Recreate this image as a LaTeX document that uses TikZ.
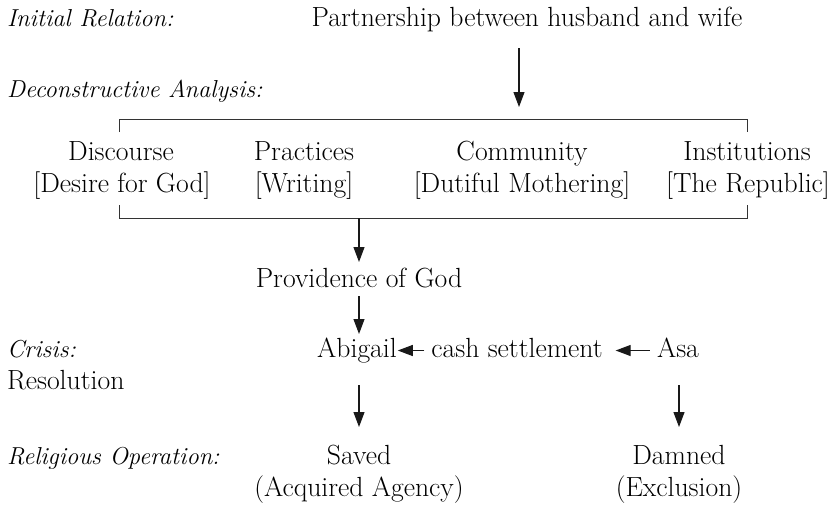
\documentclass[tikz,border=0pt]{standalone}
\usetikzlibrary{arrows.meta}
\begin{document}
\begin{tikzpicture}[x=1pt,y=-1pt,
  every node/.style={inner sep=0pt, outer sep=0pt, font=\fontsize{27.7}{32}\selectfont, text height=19pt, text depth=6pt},
  txt/.style={anchor=base},
  lbl/.style={anchor=base west, font=\fontsize{24.5}{32}\selectfont\itshape},
  lblup/.style={anchor=base west},
  arr/.style={draw=black!90, line width=1.1pt, -{Triangle[length=15pt,width=11pt]}},
  brk/.style={draw=black!80, line width=1pt}]
\useasboundingbox (0,0) rectangle (834,509);

% left-hand labels
\node[lbl] (lir) at (7,26) {Initial Relation:};
\node[lbl] (lda) at (7,97) {Deconstructive Analysis:};
\node[lbl] (lcr) at (7,357) {Crisis:};
\node[lblup] (lres) at (7,389) {Resolution};
\node[lbl] (lro) at (7,464) {Religious Operation:};

% main column
\node[txt] (part) at (527,26) {Partnership between husband and wife};

\node[txt] (disc)  at (121,160) {Discourse};
\node[txt] (disc2) at (122,192) {[Desire for God]};
\node[txt] (prac)  at (304,160) {Practices};
\node[txt] (prac2) at (304,192) {[Writing]};
\node[txt] (comm)  at (522,160) {Community};
\node[txt] (comm2) at (522,192) {[Dutiful Mothering]};
\node[txt] (inst)  at (747,160) {Institutions};
\node[txt] (inst2) at (748,192) {[The Republic]};

\node[txt] (prov) at (359,287) {Providence of God};

\node[txt] (abig) at (357,357) {Abigail};
\node[txt] (cash) at (517,357) {cash settlement};
\node[txt] (asa)  at (678,357) {Asa};

\node[txt] (saved)  at (359,464) {Saved};
\node[txt] (saved2) at (359,496) {(Acquired Agency)};
\node[txt] (damn)   at (679,464) {Damned};
\node[txt] (damn2)  at (679,496) {(Exclusion)};

% brackets
\coordinate (btl) at (119,119);
\coordinate (btr) at (747,119);
\coordinate (bbl) at (119,218);
\coordinate (bbr) at (747,218);
\coordinate (btop) at (519,119);
\coordinate (bbot) at (359,218);
\draw[brk] (btl) ++(0,13) -- (btl) -- (btr) -- ++(0,13);
\draw[brk] (bbl) ++(0,-13) -- (bbl) -- (bbr) -- ++(0,-13);

% arrows
\draw[arr, shorten <=16pt, shorten >=12pt] (part.south -| btop) -- (btop);
\draw[arr, shorten >=6pt] (bbot) -- (prov.north -| bbot);
\draw[arr, shorten <=3pt, shorten >=4pt] (prov.south -| bbot) -- (abig.north -| bbot);
\draw[arr, shorten <=7pt, shorten >=1pt] (cash.west) -- (abig.east);
\draw[arr, shorten <=7.5pt, shorten >=13pt] (asa.west) -- (cash.east);
\draw[arr, shorten <=22pt, shorten >=18pt] (abig.south -| saved) -- (saved.north);
\draw[arr, shorten <=22pt, shorten >=18pt] (asa.south -| damn) -- (damn.north);
\end{tikzpicture}
\end{document}
